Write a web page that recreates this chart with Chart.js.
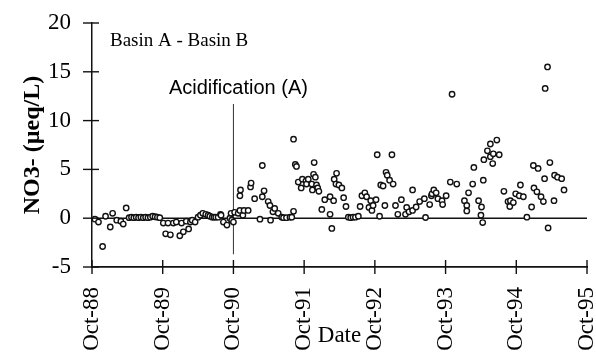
<!DOCTYPE html>
<html>
<head>
<meta charset="utf-8">
<script src="https://cdn.jsdelivr.net/npm/chart.js@4/dist/chart.umd.min.js"></script>
<style>
  html, body { margin: 0; padding: 0; background: #fff; }
</style>
</head>
<body>
<canvas id="no3Chart" width="596" height="358"></canvas>
<script>
// x axis: months since Oct-88, one tick per year
const tickLabels = ["Oct-88", "Oct-89", "Oct-90", "Oct-91", "Oct-92", "Oct-93", "Oct-94", "Oct-95"];
const yTicks = [-5, 0, 5, 10, 15, 20];

// NO3- difference (Basin A - Basin B)
const months = [
    0.5, 1.1, 1.8, 2.3, 3.1, 3.5, 4.2, 4.9, 5.3, 5.8,
    6.3, 6.7, 7.1, 7.5, 7.9, 8.3, 8.7, 9.1, 9.5, 9.9, 10.3, 10.7, 11.1, 11.5,
    12.1, 12.5, 12.9, 13.3, 13.8, 14.3, 14.9, 15.2, 15.5, 16.0, 16.4, 16.7, 17.0, 17.5,
    18.0, 18.4, 18.8, 19.3, 19.7, 20.0, 20.4, 20.7, 21.0, 21.4, 21.8, 21.9, 22.3, 22.9, 23.4, 23.6, 23.7, 24.0,
    24.2, 24.8, 25.1, 25.2, 25.1, 25.6, 25.8, 26.5, 26.9, 27.0, 27.6, 28.5, 28.9, 28.9, 29.2, 29.9,
    30.2, 30.3, 30.7, 31.0, 31.6, 32.2, 32.5, 33.0, 33.6, 33.9, 34.2, 34.2, 34.5, 34.7, 35.0,
    35.5, 35.7, 36.3, 36.4, 36.7, 37.3, 37.4, 37.6, 37.7, 37.9, 38.1, 38.3, 38.5, 39.0, 39.5,
    40.4, 40.4, 40.7, 41.0, 41.1, 41.4, 41.5, 41.9, 42.4, 42.7, 43.1, 43.5, 43.9, 44.3, 44.7,
    45.2, 45.5, 45.8, 46.3, 46.6, 47.0, 47.3, 47.5, 47.7, 48.2, 48.4, 48.8, 49.0, 49.4, 49.7,
    49.9, 50.1, 50.5, 50.9, 51.1, 51.5, 51.9, 52.5, 53.2, 53.4, 53.8, 54.4, 54.4, 55.0, 55.6,
    56.4, 56.6, 57.3, 57.6, 57.7, 58.0, 58.4, 58.7, 59.4, 59.5, 60.1, 60.8, 61.1, 61.9,
    63.2, 63.6, 63.6, 63.9, 64.6, 64.8, 65.6, 66.0, 66.1, 66.3, 66.4, 66.5, 67.1, 67.6, 67.6,
    68.0, 68.1, 68.7, 69.1, 69.9, 70.6, 70.9, 71.0, 71.5, 71.9, 72.5, 72.7, 73.2, 73.8,
    74.6, 74.9, 75.0, 75.5, 75.7, 76.2, 76.6, 76.8, 76.9, 77.3, 77.4, 77.7, 78.4, 78.5, 79.0, 79.7, 80.1
];
const no3Diff = [
    -0.1, -0.4, -2.9, 0.2, -0.9, 0.5, -0.2, -0.3, -0.6, 1.05,
    0.05, 0.1, 0.05, 0.1, 0.05, 0.1, 0.05, 0.1, 0.05, 0.1, 0.2, 0.15, 0.1, 0.05,
    -0.5, -1.6, -0.5, -1.7, -0.5, -0.4, -1.8, -0.5, -1.4, -0.3, -1.1, -0.4, -0.2, -0.4,
    0.1, 0.3, 0.5, 0.4, 0.3, 0.2, 0.1, 0.1, 0.1, 0.1, 0.4, 0.3, -0.4, -0.7, 0, 0.5, -0.2, -0.4,
    0.6, 0.5, 0.8, 2.9, 2.3, 0.3, 0.8, 0.8, 3.2, 3.6, 2.0, -0.1, 5.4, 2.2, 2.8, 1.7,
    1.3, -0.2, 0.65, 1.0, 0.5, 0.1, 0.05, 0.05, 0.1, 0.1, 0.7, 8.1, 5.5, 5.3, 3.7,
    3.1, 4.0, 3.8, 3.5, 4.0, 3.5, 2.9, 4.5, 5.7, 4.2, 3.4, 3.1, 2.75, 0.9, 1.9,
    2.2, 0.4, -1.05, 1.8, 4.0, 3.5, 4.6, 3.4, 3.1, 2.1, 1.2, 0.1, 0.05, 0.1, 0.1,
    0.2, 1.2, 2.3, 2.6, 2.2, 1.1, 1.8, 0.8, 1.3, 1.9, 6.5, 0.2, 3.4, 3.3, 1.3,
    4.7, 4.4, 3.9, 6.5, 3.5, 1.3, 0.4, 1.9, 0.4, 1.1, 0.65, 2.9, 0.8, 1.15, 1.7,
    2.0, 0.07, 1.4, 2.3, 2.5, 2.9, 2.6, 2.0, 1.8, 1.4, 2.3, 3.7, 12.7, 3.5,
    1.8, 1.3, 0.75, 2.6, 3.5, 5.2, 1.8, 0.3, 1.15, -0.45, 3.9, 6.0, 6.9, 7.6, 6.3,
    5.6, 6.6, 8.0, 6.5, 2.75, 1.7, 1.2, 1.8, 1.6, 2.5, 2.3, 3.4, 2.2, 0.1,
    1.15, 5.4, 3.1, 2.7, 5.1, 2.2, 1.7, 4.05, 13.3, 15.5, -1.0, 5.7, 1.8, 4.4, 4.2, 4.05, 2.9
];

// acidification of basin A starts Oct-90
const acidMonth = 24;
const acidLineFrom = -3.7;
const acidLineTo = 11.7;

const serif = "'Liberation Serif', 'Times New Roman', serif";
const sans = "'Liberation Sans', Arial, sans-serif";
const ink = "#111";

const points = months.map((m, i) => ({ x: m, y: no3Diff[i] }));

// crossing tick marks and the two text labels
const extras = {
    id: 'extras',
    afterDraw(chart) {
        const ctx = chart.ctx;
        const x = chart.scales.x;
        const y = chart.scales.y;
        const area = chart.chartArea;
        ctx.save();
        ctx.strokeStyle = ink;
        ctx.lineWidth = 1.4;
        yTicks.forEach(function (v) {
            const py = y.getPixelForValue(v);
            ctx.beginPath();
            ctx.moveTo(area.left - 9, py);
            ctx.lineTo(area.left + 7, py);
            ctx.stroke();
        });
        tickLabels.forEach(function (lbl, i) {
            const px = x.getPixelForValue(i * 12);
            ctx.beginPath();
            ctx.moveTo(px, area.bottom - 7);
            ctx.lineTo(px, area.bottom + 7);
            ctx.stroke();
        });

        ctx.fillStyle = "#000";
        ctx.textBaseline = "alphabetic";
        ctx.font = "19px " + serif;
        ctx.textAlign = "left";
        ctx.fillText("Basin A - Basin B", area.left + 18, area.top + 23);

        ctx.font = "20px " + sans;
        ctx.textAlign = "center";
        ctx.fillText("Acidification (A)", x.getPixelForValue(acidMonth) + 5, y.getPixelForValue(12.7));
        ctx.restore();
    }
};

new Chart("no3Chart", {
    type: "scatter",
    data: {
        datasets: [{
            label: "NO3-",
            data: points,
            pointStyle: "circle",
            pointRadius: 2.7,
            borderWidth: 1.4,
            borderColor: ink,
            backgroundColor: "#fff",
            order: 0
        }, {
            label: "zero",
            data: [{ x: 0, y: 0 }, { x: 84, y: 0 }],
            showLine: true,
            pointRadius: 0,
            borderColor: ink,
            borderWidth: 1.5,
            order: 1
        }, {
            label: "acidification",
            data: [{ x: acidMonth, y: acidLineFrom }, { x: acidMonth, y: acidLineTo }],
            showLine: true,
            pointRadius: 0,
            borderColor: "#333",
            borderWidth: 1,
            order: 1
        }]
    },
    options: {
        responsive: false,
        animation: false,
        layout: { padding: { left: 0, right: 9, top: 23, bottom: 0 } },
        plugins: {
            legend: { display: false },
            tooltip: { enabled: false }
        },
        scales: {
            x: {
                type: "linear",
                min: 0,
                max: 84,
                ticks: {
                    stepSize: 12,
                    autoSkip: false,
                    minRotation: 90,
                    maxRotation: 90,
                    padding: 20,
                    color: "#000",
                    font: { family: serif, size: 23 },
                    callback: function (value) {
                        return tickLabels[Math.round(value / 12)];
                    }
                },
                grid: { display: false, drawTicks: false },
                border: { display: true, color: ink, width: 1.8 },
                title: {
                    display: true,
                    text: "Date",
                    color: "#000",
                    font: { family: serif, size: 23 },
                    padding: { top: 0, bottom: 8 }
                },
                afterFit: function (scale) {
                    scale.height = 91;
                    scale.paddingLeft = 0;
                    scale.paddingRight = 0;
                }
            },
            y: {
                min: -5,
                max: 20,
                ticks: {
                    stepSize: 5,
                    padding: 21,
                    color: "#000",
                    font: { family: serif, size: 23 }
                },
                grid: { display: false, drawTicks: false },
                border: { display: true, color: ink, width: 1.5 },
                title: {
                    display: true,
                    text: "NO3- (µeq/L)",
                    color: "#000",
                    font: { family: serif, size: 24, weight: "bold" },
                    padding: { top: 18, bottom: 0 }
                },
                afterFit: function (scale) {
                    scale.width = 92;
                    scale.paddingTop = 0;
                    scale.paddingBottom = 0;
                }
            }
        }
    },
    plugins: [extras]
});
</script>
</body>
</html>
